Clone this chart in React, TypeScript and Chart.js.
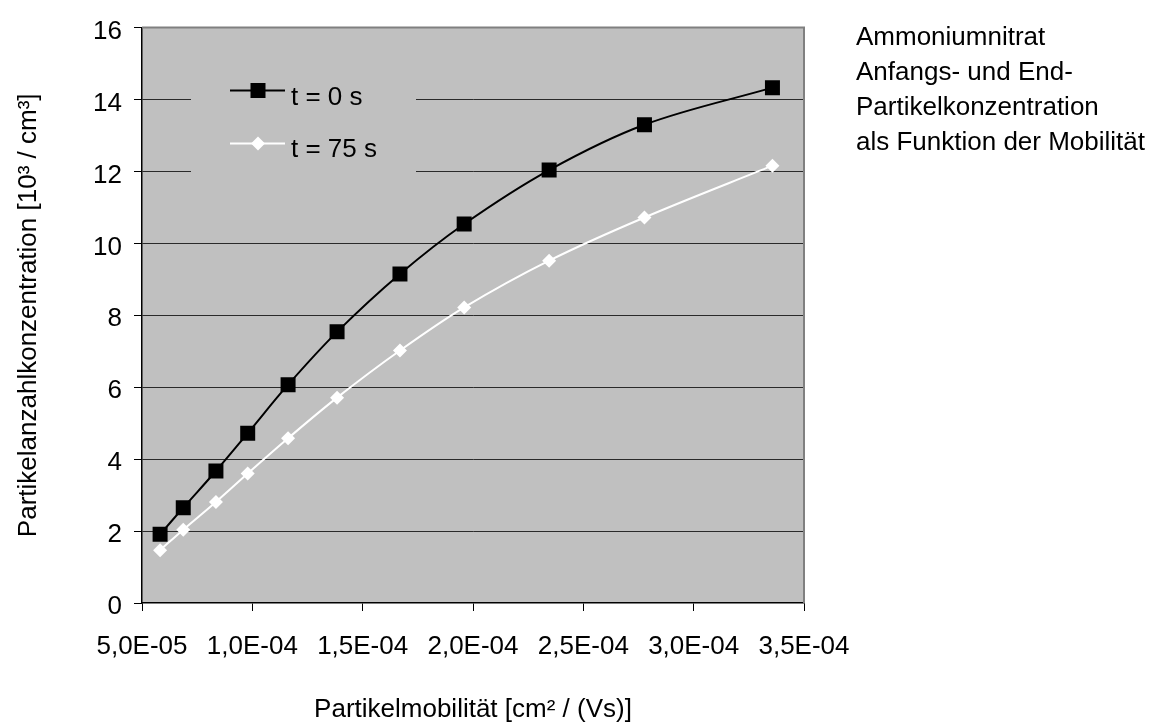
import React, { useEffect, useRef } from "react";
import { Chart, registerables } from "chart.js";

Chart.register(...registerables);

// Partikelmobilität [cm² / (Vs)]
const mobility = [
  5.82e-5, 6.87e-5, 8.35e-5, 9.79e-5, 1.162e-4, 1.384e-4, 1.669e-4, 1.96e-4,
  2.345e-4, 2.777e-4, 3.357e-4,
];
// Partikelanzahlkonzentration [10³ / cm³]
const conc0s = [1.91, 2.65, 3.67, 4.72, 6.07, 7.54, 9.15, 10.54, 12.04, 13.3, 14.33];
const conc75s = [1.47, 2.04, 2.81, 3.6, 4.58, 5.71, 7.02, 8.22, 9.52, 10.72, 12.16];

const seriesLabels = ["t = 0 s", "t = 75 s"];
const xTickLabels = ["5,0E-05", "1,0E-04", "1,5E-04", "2,0E-04", "2,5E-04", "3,0E-04", "3,5E-04"];
const yTickLabels = ["0", "2", "4", "6", "8", "10", "12", "14", "16"];
const noteLines = [
  "Ammoniumnitrat",
  "Anfangs- und End-",
  "Partikelkonzentration",
  "als Funktion der Mobilität",
];

const FONT = "'Liberation Sans', Arial, sans-serif";
const FS = 26;
const PLOT_BG = "#C0C0C0";

const decorPlugin = {
  id: "decor",
  beforeDraw(chart: any) {
    const { ctx, chartArea: a, width, height } = chart;
    ctx.save();
    ctx.fillStyle = "#ffffff";
    ctx.fillRect(0, 0, width, height);
    ctx.fillStyle = PLOT_BG;
    ctx.fillRect(a.left, a.top, a.right - a.left, a.bottom - a.top);
    ctx.restore();
  },
  beforeDatasetsDraw(chart: any) {
    const { ctx, chartArea: a } = chart;
    ctx.save();
    // plot frame (top and right)
    ctx.strokeStyle = "#808080";
    ctx.lineWidth = 2;
    ctx.beginPath();
    ctx.moveTo(a.left, a.top);
    ctx.lineTo(a.right, a.top);
    ctx.lineTo(a.right, a.bottom);
    ctx.stroke();

    // legend inside the plot
    ctx.fillStyle = PLOT_BG;
    ctx.fillRect(191, 55, 225, 130);
    const ds = chart.data.datasets;
    const rows = [
      { y: 90.5, base: 105 },
      { y: 143.5, base: 157 },
    ];
    rows.forEach((r, i) => {
      const d = ds[i];
      ctx.strokeStyle = d.borderColor;
      ctx.lineWidth = 2;
      ctx.beginPath();
      ctx.moveTo(230, r.y);
      ctx.lineTo(285, r.y);
      ctx.stroke();
      ctx.fillStyle = d.pointBackgroundColor;
      if (i === 0) {
        ctx.fillRect(258 - 7.5, r.y - 7.5, 15, 15);
      } else {
        ctx.beginPath();
        ctx.moveTo(258 - 7, r.y);
        ctx.lineTo(258, r.y - 7);
        ctx.lineTo(258 + 7, r.y);
        ctx.lineTo(258, r.y + 7);
        ctx.closePath();
        ctx.fill();
      }
      ctx.fillStyle = "#000";
      ctx.font = `${FS}px ${FONT}`;
      ctx.textBaseline = "alphabetic";
      ctx.textAlign = "left";
      ctx.fillText(d.label, 291, r.base);
    });

    // note to the right of the plot
    ctx.fillStyle = "#000";
    ctx.font = `${FS}px ${FONT}`;
    noteLines.forEach((t, i) => ctx.fillText(t, 856, 45 + i * 35));
    ctx.restore();
  },
};

export default function App() {
  const ref = useRef<HTMLCanvasElement>(null);

  useEffect(() => {
    if (!ref.current) return;
    const tickFont = { family: FONT, size: FS };
    const chart = new Chart(ref.current, {
      type: "scatter",
      data: {
        datasets: [
          {
            label: seriesLabels[0],
            data: mobility.map((x, i) => ({ x, y: conc0s[i] })),
            showLine: true,
            borderColor: "#000000",
            borderWidth: 2,
            tension: 0.35,
            pointStyle: "rect",
            pointRadius: 10.6,
            pointBackgroundColor: "#000000",
            pointBorderColor: "#000000",
            pointBorderWidth: 0,
          },
          {
            label: seriesLabels[1],
            data: mobility.map((x, i) => ({ x, y: conc75s[i] })),
            showLine: true,
            borderColor: "#ffffff",
            borderWidth: 2,
            tension: 0.35,
            pointStyle: "rectRot",
            pointRadius: 7,
            pointBackgroundColor: "#ffffff",
            pointBorderColor: "#ffffff",
            pointBorderWidth: 0,
          },
        ],
      },
      options: {
        responsive: false,
        animation: false,
        events: [],
        layout: { padding: { left: 0, right: 356, top: 17, bottom: 0 } },
        plugins: { legend: { display: false }, tooltip: { enabled: false } },
        scales: {
          x: {
            type: "linear",
            min: 5e-5,
            max: 3.5e-4,
            afterFit: (s: any) => {
              s.height = 122;
            },
            ticks: {
              stepSize: 5e-5,
              font: tickFont,
              color: "#000",
              padding: 20,
              maxRotation: 0,
              autoSkip: false,
              callback: (_v: any, i: number) => xTickLabels[i],
            },
            grid: { drawOnChartArea: false, tickLength: 8, tickColor: "#000", lineWidth: 1 },
            border: { color: "#000", width: 1.5 },
            title: {
              display: true,
              text: "Partikelmobilität [cm² / (Vs)]",
              font: tickFont,
              color: "#000",
              padding: { top: 0, bottom: 0 },
            },
          },
          y: {
            min: 0,
            max: 16,
            afterFit: (s: any) => {
              s.width = 142;
            },
            ticks: {
              stepSize: 2,
              font: tickFont,
              color: "#000",
              padding: 12,
              labelOffset: 4,
              callback: (_v: any, i: number) => yTickLabels[i],
            },
            grid: {
              tickLength: 8,
              tickColor: "#000",
              lineWidth: 1,
              color: (c: any) =>
                c.tick && (c.tick.value === 0 || c.tick.value === 16) ? "rgba(0,0,0,0)" : "#2a2a2a",
            },
            border: { color: "#000", width: 1.5 },
            title: {
              display: true,
              text: "Partikelanzahlkonzentration [10³ / cm³]",
              font: tickFont,
              color: "#000",
              padding: { top: 13, bottom: 0 },
            },
          },
        },
      },
      plugins: [decorPlugin],
    });
    return () => chart.destroy();
  }, []);

  return (
    <div style={{ position: "absolute", left: 0, top: 0, width: 1160, height: 725, background: "#fff" }}>
      <canvas ref={ref} width={1160} height={725} style={{ display: "block" }} />
    </div>
  );
}
